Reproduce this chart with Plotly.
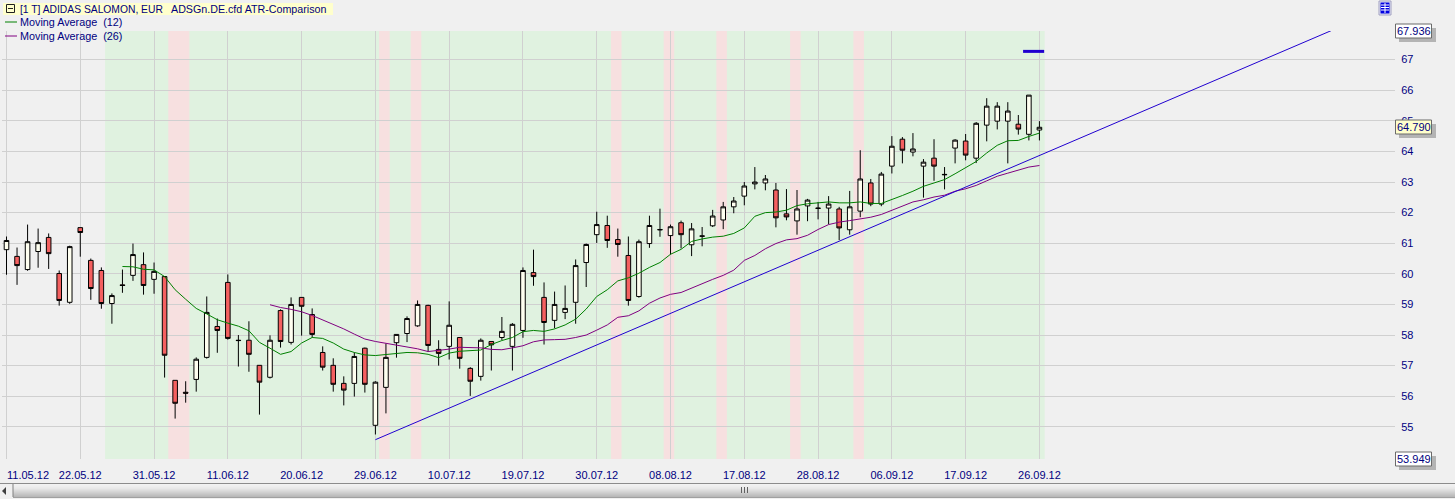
import plotly.graph_objects as go

W, H = 1455, 499
PL, PR, PT, PB = 2, 1395, 31, 459

opens = [60.79,60.57,60.14,60.73,61.19,60.01,59.07,61.51,60.44,60.11,59.03,59.64,59.95,60.30,59.82,59.91,56.52,56.13,56.55,57.27,
58.28,59.72,57.83,57.83,57.01,56.62,58.80,57.76,59.23,58.67,57.43,57.01,56.42,56.42,57.57,55.05,56.29,57.75,58.05,58.30,
58.97,57.53,57.63,57.92,56.91,56.65,57.79,57.92,57.63,58.15,60.04,59.23,58.48,58.74,59.07,60.37,61.28,61.58,61.12,60.60,
59.26,60.99,61.45,61.25,61.67,60.95,61.24,61.57,61.76,62.19,62.54,62.94,62.97,62.74,61.96,61.73,62.22,62.15,62.15,62.12,
61.44,62.05,62.97,62.28,63.52,64.40,63.98,63.52,63.78,63.25,64.11,64.34,63.78,64.86,64.99,64.99,64.89,64.56,64.70]
closes = [61.09,60.27,61.05,61.02,60.66,59.13,60.89,61.35,59.52,59.03,59.29,59.62,60.63,59.62,60.08,57.34,55.77,56.10,57.21,58.74,
58.15,57.89,57.82,57.37,56.46,57.83,57.79,59.00,58.94,58.02,56.95,56.39,56.20,57.30,56.39,56.46,57.27,58.02,58.54,59.00,
57.66,57.40,58.32,57.24,56.49,57.83,57.68,58.12,58.35,60.11,59.91,58.41,59.00,58.87,60.27,60.96,61.61,61.09,60.96,59.13,
61.05,61.58,61.44,61.54,61.28,61.47,61.23,61.89,62.19,62.38,62.87,63.00,63.10,61.83,61.86,62.12,62.41,62.14,62.28,61.50,
62.19,63.10,62.28,63.26,64.17,64.04,64.08,63.65,63.52,63.24,64.37,63.88,64.92,65.48,65.48,65.32,64.73,65.84,64.79]
highs = [61.22,60.86,61.61,61.48,61.32,60.11,60.92,61.51,60.50,60.21,59.36,60.14,60.99,60.70,60.37,59.91,56.52,56.49,57.27,59.26,
58.54,59.98,58.00,58.45,57.01,57.99,58.84,59.23,59.23,58.87,57.63,57.24,56.65,57.43,57.59,56.49,57.72,58.02,58.61,59.13,
58.99,57.83,59.10,57.92,56.95,57.89,57.79,58.59,58.39,60.21,60.79,59.72,59.42,59.62,60.47,60.99,62.03,61.90,61.48,61.22,
61.12,61.90,62.13,61.61,61.74,61.66,61.53,62.09,62.35,62.51,63.00,63.49,63.23,62.97,62.77,62.74,62.45,62.35,62.54,62.19,
62.71,64.04,63.10,63.33,64.50,64.47,64.60,63.75,64.40,63.49,64.40,64.57,64.96,65.74,65.61,65.61,65.19,65.84,64.99]
lows = [59.97,59.64,60.10,60.20,60.16,58.96,59.02,60.56,59.15,58.86,58.37,59.38,59.77,59.32,59.35,56.61,55.27,55.79,56.15,57.23,
57.42,57.85,56.97,56.80,55.40,56.58,57.59,57.69,57.98,57.92,56.84,56.15,55.70,55.99,56.12,54.75,55.44,57.26,57.77,58.27,
57.46,57.00,57.20,56.90,56.01,56.51,56.84,57.84,56.84,57.91,59.61,57.69,58.22,58.52,58.37,59.57,61.01,60.85,60.56,58.96,
59.22,60.85,61.21,60.63,60.83,60.58,60.90,61.53,61.46,61.98,62.24,62.76,62.73,61.52,61.75,61.28,61.72,61.78,61.62,61.10,
61.28,61.85,62.21,62.21,63.28,63.61,63.84,62.49,63.04,62.76,63.61,63.71,63.62,64.33,64.72,63.61,64.55,64.36,64.36]

ma12_start = 11
ma12 = [60.24,60.23,60.15,60.13,59.91,59.48,59.17,58.87,58.69,58.50,58.39,58.29,58.14,57.76,57.57,57.37,57.46,57.74,57.92,57.89,
57.74,57.54,57.43,57.35,57.33,57.36,57.41,57.43,57.42,57.37,57.26,57.41,57.47,57.50,57.51,57.69,57.82,57.92,58.11,58.15,
58.12,58.20,58.33,58.52,58.85,59.26,59.48,59.77,59.87,60.02,60.21,60.37,60.64,60.80,61.06,61.14,61.20,61.23,61.32,61.50,
61.88,62.00,62.02,62.08,62.23,62.29,62.33,62.35,62.32,62.32,62.35,62.30,62.30,62.42,62.56,62.70,62.86,62.97,63.08,63.27,
63.46,63.67,63.95,64.20,64.35,64.36,64.49,64.60]
ma26_start = 25
ma26 = [58.99,58.90,58.84,58.76,58.64,58.50,58.36,58.20,58.03,57.87,57.79,57.73,57.65,57.61,57.55,57.46,57.49,57.54,57.60,57.59,
57.58,57.53,57.52,57.58,57.65,57.78,57.84,57.85,57.86,57.92,58.00,58.16,58.33,58.58,58.63,58.79,59.04,59.21,59.33,59.39,
59.54,59.69,59.82,59.95,60.12,60.44,60.60,60.82,60.99,61.11,61.15,61.26,61.45,61.61,61.69,61.74,61.79,61.85,61.94,62.07,
62.21,62.35,62.42,62.51,62.57,62.70,62.78,62.89,63.04,63.19,63.29,63.40,63.49,63.54]

trend_x = [35.0, 125.9]
trend_y = [54.58, 67.98]
target_x = [96.45, 98.45]
target_y = [67.27, 67.27]

date_idx = [0, 7, 14, 21, 28, 35, 42, 49, 56, 63, 70, 77, 84, 91, 98]
date_labels = ["11.05.12","22.05.12","31.05.12","11.06.12","20.06.12","29.06.12","10.07.12","19.07.12",
               "30.07.12","08.08.12","17.08.12","28.08.12","06.09.12","17.09.12","26.09.12"]
price_ticks = [55,56,57,58,59,60,61,62,63,64,65,66,67]
y_min, y_max, last_price = 53.949, 67.936, 64.790

green_span = (9.35, 98.5)
pink_spans = [(15.35,17.35),(35.35,36.35),(38.35,39.35),(57.35,58.35),(62.35,63.35),(67.35,68.35),(74.35,75.35),(80.35,81.35)]

TXT = "#000080"
FONT = "Liberation Sans"
BG = "#f0f0f0"
GRID = "#d0d0d0"

def xp(px): return px / W
def yp(py): return 1 - py / H

shapes, annos = [], []

def rect(x0, y0, x1, y1, fill, line=None, lw=1):
    shapes.append(dict(type="rect", xref="paper", yref="paper", x0=xp(x0), x1=xp(x1), y0=yp(y0), y1=yp(y1),
                       fillcolor=fill, line=dict(color=line or fill, width=lw if line else 0), layer="above"))

def seg(x0, y0, x1, y1, color, lw=1):
    shapes.append(dict(type="line", xref="paper", yref="paper", x0=xp(x0), x1=xp(x1), y0=yp(y0), y1=yp(y1),
                       line=dict(color=color, width=lw), layer="above"))

def label(px, py, text, anchor="left", color=TXT, size=11):
    annos.append(dict(xref="paper", yref="paper", x=xp(px), y=yp(py), text=text, showarrow=False,
                      xanchor=anchor, yanchor="middle", borderpad=0, borderwidth=0,
                      font=dict(family=FONT, size=size, color=color)))

shapes.append(dict(type="rect", xref="x", yref="paper", x0=green_span[0], x1=green_span[1],
                   y0=yp(PB), y1=yp(PT), fillcolor="#e0f2e0", line=dict(width=0), layer="below"))
for a, b in pink_spans:
    shapes.append(dict(type="rect", xref="x", yref="paper", x0=a, x1=b,
                       y0=yp(PB), y1=yp(PT), fillcolor="#f7e0e0", line=dict(width=0), layer="below"))

rect(3, 3, 333, 15, "#ffffcc")
rect(6.5, 4.5, 14.5, 12.5, "#ffffcc", "#202020")
seg(8, 8.5, 13, 8.5, "#202020")
label(19.5, 9, "[1 T] ADIDAS SALOMON, EUR", size=10.3)
label(170.5, 9, "ADSGn.DE.cfd ATR-Comparison", size=10.7)
seg(5, 22, 17, 22, "#008000")
label(19.5, 22, "Moving Average\u00a0\u00a0(12)", size=10.8)
seg(5, 36, 17, 36, "#800080")
label(19.5, 36, "Moving Average\u00a0\u00a0(26)", size=10.8)

rect(1379, 1, 1391, 15, "#e8e8f8", "#a0a0c0")
rect(1380.5, 2.5, 1389.5, 13.5, "#0000e0")
for py in (5, 7.5, 10):
    seg(1381, py, 1389, py, "#ffffff")
seg(1385, 3, 1385, 13, "#ffffff")

def price_box(y0, y1, text, fill):
    rect(1399, y0 + 4, 1436, y1 + 4, "#b4b4b4")
    rect(1395.5, y0, 1431.5, y1, fill, "#6a6a6a")
    label(1413.5, (y0 + y1) / 2, text, "center")

price_box(24, 38, f"{y_max:.3f}", "#ffffff")
price_box(120, 134, f"{last_price:.3f}", "#ffffcc")
price_box(452, 466, f"{y_min:.3f}", "#ffffff")

label(7, 475, date_labels[0])

bar = ["#f2f2f2","#f0f0f0","#eeeeee","#ebebeb","#e8e8e8","#e2e2e2","#dcdcdc","#d6d6d6","#d0d0d0","#cacaca","#c4c4c4","#bebebe","#b8b8b8"]
for i, c in enumerate(bar):
    rect(13, 484 + i, W, 485 + i, c)
seg(0, 483.5, W, 483.5, "#8c8c8c")
seg(13, 497.5, W, 497.5, "#a0a0a0")
seg(13, 484, 13, 497, "#808080")
for px in (741.5, 744.5, 747.5):
    seg(px, 487, px, 493, "#606060")
shapes.append(dict(type="path", xref="paper", yref="paper",
                   path=f"M {xp(6)} {yp(487)} L {xp(2)} {yp(491)} L {xp(6)} {yp(495)} Z",
                   fillcolor="#404040", line=dict(width=0), layer="above"))

x_all = list(range(len(opens)))
fig = go.Figure()
fig.add_trace(go.Scatter(x=list(range(ma12_start, ma12_start + len(ma12))), y=ma12, mode="lines",
                         line=dict(color="#008000", width=1), showlegend=False))
fig.add_trace(go.Scatter(x=list(range(ma26_start, ma26_start + len(ma26))), y=ma26, mode="lines",
                         line=dict(color="#800080", width=1), showlegend=False))
fig.add_trace(go.Scatter(x=trend_x, y=trend_y, mode="lines", cliponaxis=False,
                         line=dict(color="#2000d0", width=1), showlegend=False))
fig.add_trace(go.Candlestick(x=x_all, open=opens, high=highs, low=lows, close=closes, whiskerwidth=0,
                             increasing=dict(fillcolor="#fffff0", line=dict(color="#000000", width=1)),
                             decreasing=dict(fillcolor="#f46060", line=dict(color="#000000", width=1)),
                             showlegend=False))
fig.add_trace(go.Scatter(x=target_x, y=target_y, mode="lines", line=dict(color="#2000d0", width=3), showlegend=False))

tick_text = [""] + date_labels[1:]
fig.update_layout(
    width=W, height=H, margin=dict(l=0, r=0, t=0, b=0), autosize=False,
    paper_bgcolor=BG, plot_bgcolor=BG, showlegend=False, hovermode=False, boxgap=0.38,
    font=dict(family=FONT, size=11, color=TXT),
    shapes=shapes, annotations=annos,
    xaxis=dict(domain=[PL / W, PR / W], range=[(PL - 6.5) / 10.54, (PR - 6.5) / 10.54], rangeslider=dict(visible=False),
               tickmode="array", tickvals=date_idx, ticktext=tick_text, showgrid=True, gridcolor=GRID, gridwidth=1,
               zeroline=False, showline=False, ticks="outside", ticklen=6, tickcolor="rgba(0,0,0,0)", tickangle=0,
               tickfont=dict(family=FONT, size=11, color=TXT)),
    yaxis=dict(domain=[1 - PB / H, 1 - PT / H], range=[y_min, y_max], side="right",
               tickmode="array", tickvals=price_ticks + [y_min, y_max],
               ticktext=[str(v) for v in price_ticks] + ["", ""], showgrid=True, gridcolor=GRID, gridwidth=1,
               zeroline=False, showline=False, ticks="outside", ticklen=3, tickcolor="rgba(0,0,0,0)",
               tickfont=dict(family=FONT, size=11, color=TXT)),
)
fig.write_html("out.html", config=dict(displayModeBar=False),
               post_script="document.body.style.margin='0';document.body.style.overflow='hidden';")
